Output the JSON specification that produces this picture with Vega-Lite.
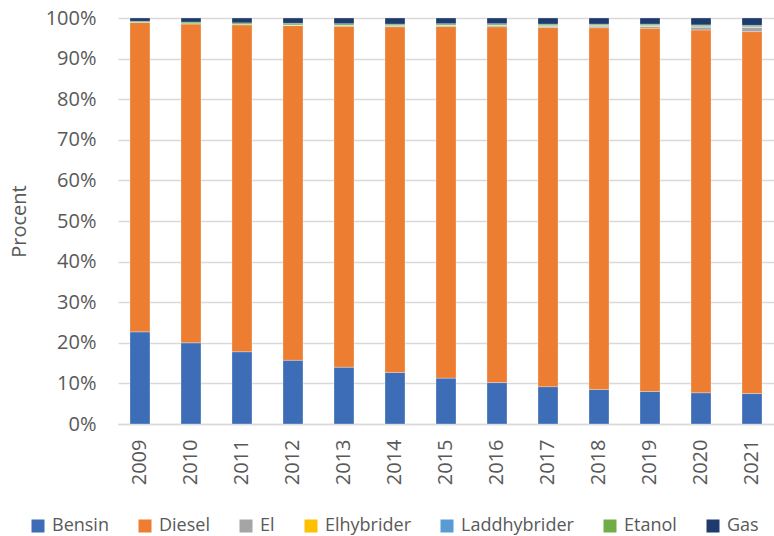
{
  "$schema": "https://vega.github.io/schema/vega-lite/v6.json",
  "autosize": {"type": "none"},
  "width": 656,
  "height": 406,
  "padding": {"left": 118, "top": 18, "right": 0, "bottom": 112},
  "background": "white",
  "config": {
    "font": "Open Sans",
    "view": {"stroke": null},
    "axis": {"labelFont": "Open Sans", "titleFont": "Open Sans"}
  },
  "data": {
    "values": [
      {"year": "2009", "typ": "Bensin", "ord": 1, "v": 22.7},
      {"year": "2009", "typ": "Diesel", "ord": 2, "v": 76.2},
      {"year": "2009", "typ": "El", "ord": 3, "v": 0},
      {"year": "2009", "typ": "Elhybrider", "ord": 4, "v": 0},
      {"year": "2009", "typ": "Laddhybrider", "ord": 5, "v": 0},
      {"year": "2009", "typ": "Etanol", "ord": 6, "v": 0.3},
      {"year": "2009", "typ": "Gas", "ord": 7, "v": 0.8},
      {"year": "2010", "typ": "Bensin", "ord": 1, "v": 20.0},
      {"year": "2010", "typ": "Diesel", "ord": 2, "v": 78.6},
      {"year": "2010", "typ": "El", "ord": 3, "v": 0},
      {"year": "2010", "typ": "Elhybrider", "ord": 4, "v": 0},
      {"year": "2010", "typ": "Laddhybrider", "ord": 5, "v": 0},
      {"year": "2010", "typ": "Etanol", "ord": 6, "v": 0.4},
      {"year": "2010", "typ": "Gas", "ord": 7, "v": 1.0},
      {"year": "2011", "typ": "Bensin", "ord": 1, "v": 17.8},
      {"year": "2011", "typ": "Diesel", "ord": 2, "v": 80.53},
      {"year": "2011", "typ": "El", "ord": 3, "v": 0.05},
      {"year": "2011", "typ": "Elhybrider", "ord": 4, "v": 0.02},
      {"year": "2011", "typ": "Laddhybrider", "ord": 5, "v": 0},
      {"year": "2011", "typ": "Etanol", "ord": 6, "v": 0.4},
      {"year": "2011", "typ": "Gas", "ord": 7, "v": 1.2},
      {"year": "2012", "typ": "Bensin", "ord": 1, "v": 15.7},
      {"year": "2012", "typ": "Diesel", "ord": 2, "v": 82.43},
      {"year": "2012", "typ": "El", "ord": 3, "v": 0.1},
      {"year": "2012", "typ": "Elhybrider", "ord": 4, "v": 0.05},
      {"year": "2012", "typ": "Laddhybrider", "ord": 5, "v": 0.02},
      {"year": "2012", "typ": "Etanol", "ord": 6, "v": 0.4},
      {"year": "2012", "typ": "Gas", "ord": 7, "v": 1.3},
      {"year": "2013", "typ": "Bensin", "ord": 1, "v": 14.0},
      {"year": "2013", "typ": "Diesel", "ord": 2, "v": 83.97},
      {"year": "2013", "typ": "El", "ord": 3, "v": 0.15},
      {"year": "2013", "typ": "Elhybrider", "ord": 4, "v": 0.05},
      {"year": "2013", "typ": "Laddhybrider", "ord": 5, "v": 0.03},
      {"year": "2013", "typ": "Etanol", "ord": 6, "v": 0.4},
      {"year": "2013", "typ": "Gas", "ord": 7, "v": 1.4},
      {"year": "2014", "typ": "Bensin", "ord": 1, "v": 12.7},
      {"year": "2014", "typ": "Diesel", "ord": 2, "v": 85.15},
      {"year": "2014", "typ": "El", "ord": 3, "v": 0.2},
      {"year": "2014", "typ": "Elhybrider", "ord": 4, "v": 0.05},
      {"year": "2014", "typ": "Laddhybrider", "ord": 5, "v": 0.05},
      {"year": "2014", "typ": "Etanol", "ord": 6, "v": 0.35},
      {"year": "2014", "typ": "Gas", "ord": 7, "v": 1.5},
      {"year": "2015", "typ": "Bensin", "ord": 1, "v": 11.3},
      {"year": "2015", "typ": "Diesel", "ord": 2, "v": 86.6},
      {"year": "2015", "typ": "El", "ord": 3, "v": 0.25},
      {"year": "2015", "typ": "Elhybrider", "ord": 4, "v": 0.05},
      {"year": "2015", "typ": "Laddhybrider", "ord": 5, "v": 0.05},
      {"year": "2015", "typ": "Etanol", "ord": 6, "v": 0.35},
      {"year": "2015", "typ": "Gas", "ord": 7, "v": 1.4},
      {"year": "2016", "typ": "Bensin", "ord": 1, "v": 10.2},
      {"year": "2016", "typ": "Diesel", "ord": 2, "v": 87.65},
      {"year": "2016", "typ": "El", "ord": 3, "v": 0.3},
      {"year": "2016", "typ": "Elhybrider", "ord": 4, "v": 0.05},
      {"year": "2016", "typ": "Laddhybrider", "ord": 5, "v": 0.05},
      {"year": "2016", "typ": "Etanol", "ord": 6, "v": 0.35},
      {"year": "2016", "typ": "Gas", "ord": 7, "v": 1.4},
      {"year": "2017", "typ": "Bensin", "ord": 1, "v": 9.2},
      {"year": "2017", "typ": "Diesel", "ord": 2, "v": 88.45},
      {"year": "2017", "typ": "El", "ord": 3, "v": 0.35},
      {"year": "2017", "typ": "Elhybrider", "ord": 4, "v": 0.05},
      {"year": "2017", "typ": "Laddhybrider", "ord": 5, "v": 0.1},
      {"year": "2017", "typ": "Etanol", "ord": 6, "v": 0.35},
      {"year": "2017", "typ": "Gas", "ord": 7, "v": 1.5},
      {"year": "2018", "typ": "Bensin", "ord": 1, "v": 8.5},
      {"year": "2018", "typ": "Diesel", "ord": 2, "v": 89.1},
      {"year": "2018", "typ": "El", "ord": 3, "v": 0.4},
      {"year": "2018", "typ": "Elhybrider", "ord": 4, "v": 0.1},
      {"year": "2018", "typ": "Laddhybrider", "ord": 5, "v": 0.1},
      {"year": "2018", "typ": "Etanol", "ord": 6, "v": 0.3},
      {"year": "2018", "typ": "Gas", "ord": 7, "v": 1.5},
      {"year": "2019", "typ": "Bensin", "ord": 1, "v": 8.0},
      {"year": "2019", "typ": "Diesel", "ord": 2, "v": 89.45},
      {"year": "2019", "typ": "El", "ord": 3, "v": 0.5},
      {"year": "2019", "typ": "Elhybrider", "ord": 4, "v": 0.1},
      {"year": "2019", "typ": "Laddhybrider", "ord": 5, "v": 0.15},
      {"year": "2019", "typ": "Etanol", "ord": 6, "v": 0.3},
      {"year": "2019", "typ": "Gas", "ord": 7, "v": 1.5},
      {"year": "2020", "typ": "Bensin", "ord": 1, "v": 7.7},
      {"year": "2020", "typ": "Diesel", "ord": 2, "v": 89.35},
      {"year": "2020", "typ": "El", "ord": 3, "v": 0.7},
      {"year": "2020", "typ": "Elhybrider", "ord": 4, "v": 0.1},
      {"year": "2020", "typ": "Laddhybrider", "ord": 5, "v": 0.2},
      {"year": "2020", "typ": "Etanol", "ord": 6, "v": 0.25},
      {"year": "2020", "typ": "Gas", "ord": 7, "v": 1.7},
      {"year": "2021", "typ": "Bensin", "ord": 1, "v": 7.5},
      {"year": "2021", "typ": "Diesel", "ord": 2, "v": 89.15},
      {"year": "2021", "typ": "El", "ord": 3, "v": 1.0},
      {"year": "2021", "typ": "Elhybrider", "ord": 4, "v": 0.1},
      {"year": "2021", "typ": "Laddhybrider", "ord": 5, "v": 0.25},
      {"year": "2021", "typ": "Etanol", "ord": 6, "v": 0.2},
      {"year": "2021", "typ": "Gas", "ord": 7, "v": 1.8}
    ]
  },
  "mark": {"type": "bar", "stroke": "white", "strokeOpacity": 0.35, "strokeWidth": 0.8},
  "encoding": {
    "x": {
      "field": "year",
      "type": "ordinal",
      "scale": {"paddingInner": 0.608, "paddingOuter": 0.235},
      "axis": {
        "title": null,
        "labelAngle": 270,
        "labelAlign": "right",
        "labelBaseline": "middle",
        "labelFontSize": 20,
        "labelColor": "#595959",
        "labelPadding": 15,
        "ticks": false,
        "domainColor": "#d9d9d9",
        "domainWidth": 1.5
      }
    },
    "y": {
      "field": "v",
      "type": "quantitative",
      "stack": "zero",
      "scale": {"domain": [0, 100], "nice": false},
      "axis": {
        "title": "Procent",
        "titleFontSize": 20,
        "titleFontWeight": "normal",
        "titleColor": "#595959",
        "titlePadding": 16,
        "values": [0, 10, 20, 30, 40, 50, 60, 70, 80, 90, 100],
        "labelExpr": "datum.value + '%'",
        "labelFontSize": 20,
        "labelColor": "#595959",
        "labelPadding": 22,
        "ticks": false,
        "domain": false,
        "grid": true,
        "gridColor": "#d9d9d9",
        "gridWidth": 1.5
      }
    },
    "color": {
      "field": "typ",
      "type": "nominal",
      "scale": {
        "domain": ["Bensin", "Diesel", "El", "Elhybrider", "Laddhybrider", "Etanol", "Gas"],
        "range": ["#3E6DB8", "#ED7D31", "#A5A5A5", "#FFC000", "#5B9BD5", "#70AD47", "#1F3A6D"]
      },
      "legend": {
        "title": null,
        "orient": "none",
        "direction": "horizontal",
        "columns": 7,
        "legendX": -89,
        "legendY": 499,
        "symbolType": "square",
        "symbolSize": 169,
        "symbolStrokeWidth": 0,
        "symbolOpacity": 1,
        "labelFont": "Open Sans",
        "labelFontSize": 18,
        "labelColor": "#595959",
        "labelOffset": 5,
        "columnPadding": 27
      }
    },
    "order": {"field": "ord", "type": "quantitative", "sort": "ascending"}
  }
}
